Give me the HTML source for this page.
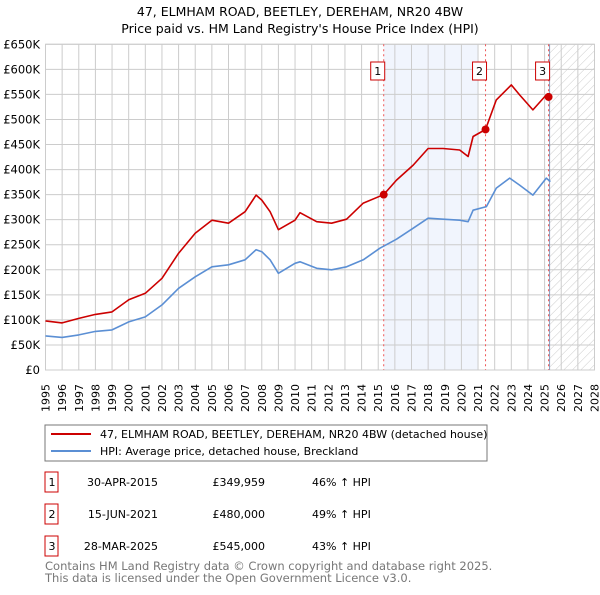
<!DOCTYPE html>
<html><head><meta charset="utf-8"><style>
body{margin:0;background:#fff;font-family:"Liberation Sans","DejaVu Sans",sans-serif;}
svg text{font-family:"DejaVu Sans","Liberation Sans",sans-serif;}
</style></head><body>
<svg id="c" width="600" height="590" viewBox="0 0 600 590" xmlns="http://www.w3.org/2000/svg">
<defs><pattern id="hatch" width="6" height="6" patternUnits="userSpaceOnUse" patternTransform="rotate(45)"><line x1="0" y1="0" x2="0" y2="6" stroke="#ccc" stroke-width="1"/></pattern></defs>
<text x="300" y="16" text-anchor="middle" font-size="12.5" fill="#000">47, ELMHAM ROAD, BEETLEY, DEREHAM, NR20 4BW</text>
<text x="300" y="33" text-anchor="middle" font-size="12.5" fill="#000">Price paid vs. HM Land Registry's House Price Index (HPI)</text>
<g id="plot"></g>
<rect x="45" y="425" width="442" height="36" fill="#fff" stroke="#777"/>
<line x1="51" y1="434" x2="91" y2="434" stroke="#cc0000" stroke-width="2"/>
<text x="100" y="438" font-size="11">47, ELMHAM ROAD, BEETLEY, DEREHAM, NR20 4BW (detached house)</text>
<line x1="51" y1="451" x2="91" y2="451" stroke="#5b8fd4" stroke-width="2"/>
<text x="100" y="455" font-size="11">HPI: Average price, detached house, Breckland</text>
<g id="tbl" font-size="11"></g>
<text x="45" y="570" font-size="11.5" fill="#777">Contains HM Land Registry data © Crown copyright and database right 2025.</text>
<text x="45" y="582" font-size="11.5" fill="#777">This data is licensed under the Open Government Licence v3.0.</text>
</svg>
<script>
const hpiYears=[1995,1996,1997,1998,1999,2000,2001,2002,2003,2004,2005,2006,2007,2007.66,2008,2008.5,2009,2010,2010.3,2011.3,2012.2,2013.1,2014.1,2015.1,2016.1,2017.1,2018.0,2018.9,2019.9,2020.4,2020.7,2021.5,2022.1,2022.9,2023.5,2024.3,2025.1,2025.35];
const hpiValues=[68,65,70,77,80,96,106,130,163,186,206,210,220,240,236,220,193,213,216,203,200,206,220,243,261,283,303,301,299,296,319,326,363,383,369,349,383,376];
const redYears=[1995,1996,1997,1998,1999,2000,2001,2002,2003,2004,2005,2006,2007,2007.66,2008,2008.5,2009,2010,2010.3,2011.3,2012.2,2013.1,2014.1,2015.33,2016.1,2017.1,2018.0,2018.9,2019.9,2020.4,2020.7,2021.45,2022.1,2023.0,2023.5,2024.3,2025.1,2025.35];
const redValues=[98,94,103,111,116,140,153,183,233,273,299,293,316,349,339,316,280,299,314,296,293,301,333,350,379,409,442,442,439,426,466,480,539,569,549,519,549,542];
const saleYears=[2015.33,2021.45,2025.24];
const saleValues=[349.959,480,545];
const saleLabels=["1","2","3"];
const saleDates=["30-APR-2015","15-JUN-2021","28-MAR-2025"];
const salePrices=["£349,959","£480,000","£545,000"];
const saleHpi=["46% ↑ HPI","49% ↑ HPI","43% ↑ HPI"];
const yTicks=[0,50,100,150,200,250,300,350,400,450,500,550,600,650];
const yTickLabels=["£0","£50K","£100K","£150K","£200K","£250K","£300K","£350K","£400K","£450K","£500K","£550K","£600K","£650K"];
const xTicks=[];for(let y=1995;y<=2028;y++)xTicks.push(y);

const X0=45.5,X1=594.5,Y0=370,Y1=44.3;
const xs=y=>X0+(y-1995)*(X1-X0)/33;
const ys=v=>Y0-v*(Y0-Y1)/650;
const NS="http://www.w3.org/2000/svg";
const plot=document.getElementById('plot');
function mk(tag,attrs,parent){const e=document.createElementNS(NS,tag);for(const k in attrs)e.setAttribute(k,attrs[k]);(parent||plot).appendChild(e);return e;}

let e=mk('rect',{x:xs(2015.33),y:Y1,width:xs(2021.0)-xs(2015.33),height:Y0-Y1,fill:'#eef3fc',opacity:0.8});


e=mk('rect',{x:xs(2025.3),y:Y1,width:X1-xs(2025.3),height:Y0-Y1,fill:'url(#hatch)'});


xTicks.forEach(t=>{
 const l=mk('line',{x1:xs(t),x2:xs(t),y1:Y1,y2:Y0,stroke:'#ccc','stroke-width':1});
 
 
 const tx=mk('text',{x:0,y:0,'font-size':11,'text-anchor':'end',transform:`translate(${xs(t)+4},384) rotate(-90)`});
 tx.textContent=t;
 
 
});
yTicks.forEach((t,i)=>{
 const l=mk('line',{x1:X0,x2:X1,y1:ys(t),y2:ys(t),stroke:'#ccc','stroke-width':1});
 
 
 const tx=mk('text',{x:40,y:ys(t)+4,'font-size':11.5,'text-anchor':'end'});
 tx.textContent=yTickLabels[i];
 
 
});
e=mk('rect',{x:X0,y:Y1,width:X1-X0,height:Y0-Y1,fill:'none',stroke:'#ccc'});


e=mk('line',{x1:xs(2025.3),x2:xs(2025.3),y1:Y1,y2:Y0,stroke:'#8899bb','stroke-width':1});


saleYears.forEach((s,i)=>{
 const l=mk('line',{x1:xs(s),x2:xs(s),y1:Y1,y2:Y0,stroke:'#ee5555','stroke-width':1,'stroke-dasharray':'2,3'});
 
 
});
function path(xa,va,col,name){
 const d=xa.map((x,i)=>(i?'L':'M')+xs(x).toFixed(1)+','+ys(va[i]).toFixed(1)).join(' ');
 const p=mk('path',{d:d,fill:'none',stroke:col,'stroke-width':1.6,'stroke-linejoin':'round'});
 
 
}
path(hpiYears,hpiValues,'#5b8fd4','hpi-line');
path(redYears,redValues,'#cc0000','property-price-line');
saleYears.forEach((s,i)=>{
 const c=mk('circle',{cx:xs(s),cy:ys(saleValues[i]),r:4,fill:'#cc0000'});
 
 
 const r=mk('rect',{x:xs(s)-13,y:62,width:14,height:18,fill:'#fff',stroke:'#cc0000'});
 
 
 const t=mk('text',{x:xs(s)-6,y:75,'font-size':11,'text-anchor':'middle'});
 t.textContent=saleLabels[i];
 
 
});
const tbl=document.getElementById('tbl');
saleLabels.forEach((lb,i)=>{
 const cy=482+i*32;
 const r=mk('rect',{x:45,y:cy-10,width:13,height:20,fill:'#fff',stroke:'#cc0000'},tbl);
 
 
 const cells=[[52,lb,'middle','row-number'],[158,saleDates[i],'end','row-date'],[265,salePrices[i],'end','row-price'],[312,saleHpi[i],'start','row-hpi']];
 cells.forEach(c=>{const t=mk('text',{x:c[0],y:cy+4,'text-anchor':c[2]},tbl);t.textContent=c[1];
 
 });
});
</script>
</body></html>
